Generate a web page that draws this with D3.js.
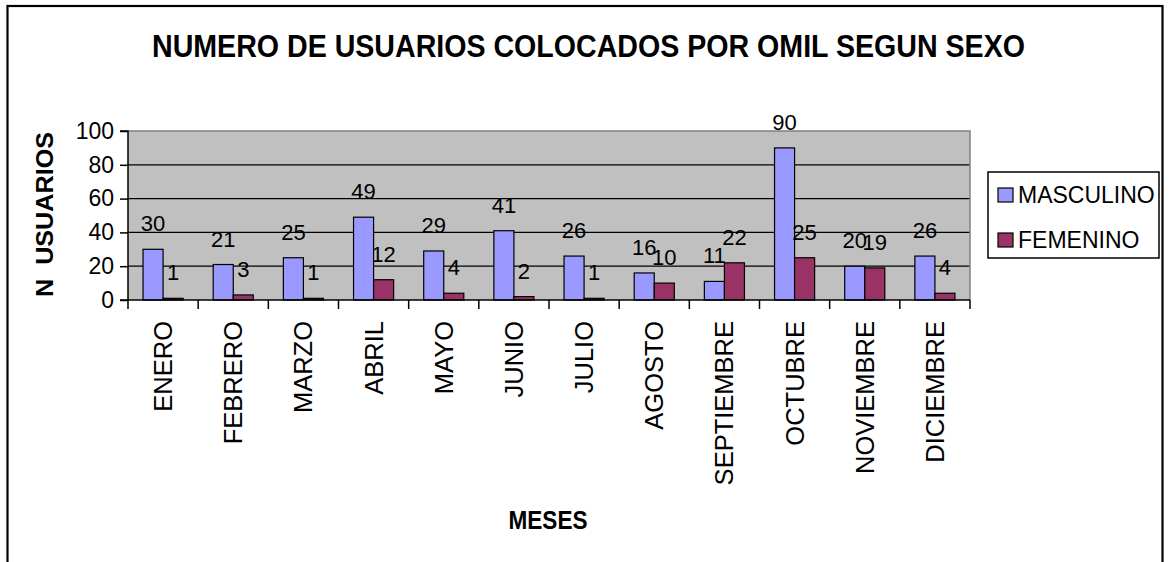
<!DOCTYPE html>
<html>
<head>
<meta charset="utf-8">
<script src="https://cdn.jsdelivr.net/npm/d3@7"></script>
<style>
  html, body { margin: 0; padding: 0; background: #fff; }
  svg { display: block; }
  text { font-family: "Liberation Sans", Arial, sans-serif; fill: #000; }
</style>
</head>
<body>
<svg id="chart" width="1169" height="562"></svg>
<script>
const months = ["ENERO","FEBRERO","MARZO","ABRIL","MAYO","JUNIO","JULIO","AGOSTO","SEPTIEMBRE","OCTUBRE","NOVIEMBRE","DICIEMBRE"];
const seriesNames = ["MASCULINO","FEMENINO"];
const masculino = [30,21,25,49,29,41,26,16,11,90,20,26];
const femenino  = [1,3,1,12,4,2,1,10,22,25,19,4];
const yTicks = [0,20,40,60,80,100];
const colors = ["#9999FF","#993366"];
const titleText = "NUMERO DE USUARIOS COLOCADOS POR OMIL SEGUN SEXO";
const yTitle = "N  USUARIOS";
const xTitle = "MESES";

const svg = d3.select("#chart");
const plot = {left: 128, right: 970, top: 131, bottom: 300};

// outer frame
svg.append("rect").attr("x", 7.5).attr("y", 6).attr("width", 1155).attr("height", 600)
  .attr("fill", "#fff").attr("stroke", "#000").attr("stroke-width", 2.2);

const x = d3.scaleBand().domain(months).range([plot.left, plot.right]).paddingInner(0).paddingOuter(0);
const x1 = d3.scaleBand().domain(seriesNames).range([0, x.bandwidth()]).paddingInner(0).paddingOuter(0.75);
const y = d3.scaleLinear().domain([0, 100]).range([plot.bottom, plot.top]);

// plot background
svg.append("rect").attr("x", plot.left).attr("y", plot.top)
  .attr("width", plot.right - plot.left).attr("height", plot.bottom - plot.top)
  .attr("fill", "#C0C0C0");

// gridlines
svg.append("g").selectAll("line").data(yTicks.filter(t => t > 0 && t < 100)).join("line")
  .attr("x1", plot.left).attr("x2", plot.right)
  .attr("y1", d => y(d)).attr("y2", d => y(d))
  .attr("stroke", "#000").attr("stroke-width", 1.2);

// top and right border gray
svg.append("path")
  .attr("d", `M${plot.left},${y(100)}H${plot.right}V${plot.bottom}`)
  .attr("fill", "none").attr("stroke", "#808080").attr("stroke-width", 1.5);

// bars
const data = months.map((m, i) => ({month: m, values: [masculino[i], femenino[i]]}));
const groups = svg.append("g").selectAll("g").data(data).join("g")
  .attr("transform", d => `translate(${x(d.month)},0)`);
groups.selectAll("rect").data(d => d.values.map((v, j) => ({s: seriesNames[j], v, j}))).join("rect")
  .attr("x", d => x1(d.s)).attr("width", x1.bandwidth())
  .attr("y", d => y(d.v)).attr("height", d => y(0) - y(d.v))
  .attr("fill", d => colors[d.j]).attr("stroke", "#000").attr("stroke-width", 1.2);

// data labels
groups.selectAll("text").data(d => d.values.map((v, j) => ({s: seriesNames[j], v, j}))).join("text")
  .attr("x", d => x1(d.s) + x1.bandwidth() / 2)
  .attr("y", d => y(d.v) - 18)
  .attr("text-anchor", "middle")
  .style("font-size", "22px")
  .text(d => d.v);

// y axis
const yAxis = d3.axisLeft(y).tickValues(yTicks).tickSize(8).tickPadding(6).tickFormat(d3.format("d"));
const gy = svg.append("g").attr("transform", `translate(${plot.left},0)`).call(yAxis);
gy.select(".domain").attr("stroke", "#000").attr("stroke-width", 1.5).attr("d", `M-8,${plot.top}H0V${plot.bottom}H-8`);
gy.selectAll(".tick line").attr("stroke", "#000").attr("stroke-width", 1.5);
gy.selectAll(".tick text").style("font-size", "23px").style("font-family", '"Liberation Sans", Arial, sans-serif').attr("fill", "#000");

// x axis
const gx = svg.append("g").attr("transform", `translate(0,${plot.bottom})`);
gx.append("line").attr("x1", plot.left).attr("x2", plot.right).attr("y1", 0).attr("y2", 0)
  .attr("stroke", "#000").attr("stroke-width", 1.5);
const bounds = months.map(m => x(m)).concat([plot.right]);
gx.selectAll("line.tick").data(bounds).join("line").attr("class", "tick")
  .attr("x1", d => d).attr("x2", d => d).attr("y1", 0).attr("y2", 9)
  .attr("stroke", "#000").attr("stroke-width", 1.5);
gx.selectAll("text").data(months).join("text")
  .attr("transform", d => `translate(${x(d) + x.bandwidth() / 2},21) rotate(-90)`)
  .attr("text-anchor", "end")
  .attr("dy", "0.35em")
  .style("font-size", "25.5px")
  .text(d => d);

// title
svg.append("text").attr("x", 588.5).attr("y", 57).attr("text-anchor", "middle")
  .style("font-size", "30.5px").style("font-weight", "bold")
  .attr("textLength", 873).attr("lengthAdjust", "spacingAndGlyphs")
  .text(titleText);

// y title
svg.append("text").attr("transform", "translate(53,214.5) rotate(-90)")
  .attr("text-anchor", "middle")
  .style("font-size", "24px").style("font-weight", "bold").style("white-space", "pre")
  .attr("textLength", 165).attr("lengthAdjust", "spacingAndGlyphs")
  .text(yTitle);

// x title
svg.append("text").attr("x", 548).attr("y", 529).attr("text-anchor", "middle")
  .style("font-size", "26px").style("font-weight", "bold")
  .attr("textLength", 79).attr("lengthAdjust", "spacingAndGlyphs")
  .text(xTitle);

// legend
const lg = svg.append("g");
lg.append("rect").attr("x", 988).attr("y", 172).attr("width", 171).attr("height", 86)
  .attr("fill", "#fff").attr("stroke", "#000").attr("stroke-width", 1.5);
const items = lg.selectAll("g").data(seriesNames).join("g")
  .attr("transform", (d, i) => `translate(998,${188 + i * 45})`);
items.append("rect").attr("width", 15).attr("height", 14)
  .attr("fill", (d, i) => colors[i]).attr("stroke", "#000").attr("stroke-width", 1.2);
items.append("text").attr("x", 20).attr("y", 15).style("font-size", "23px").text(d => d);
</script>
</body>
</html>
